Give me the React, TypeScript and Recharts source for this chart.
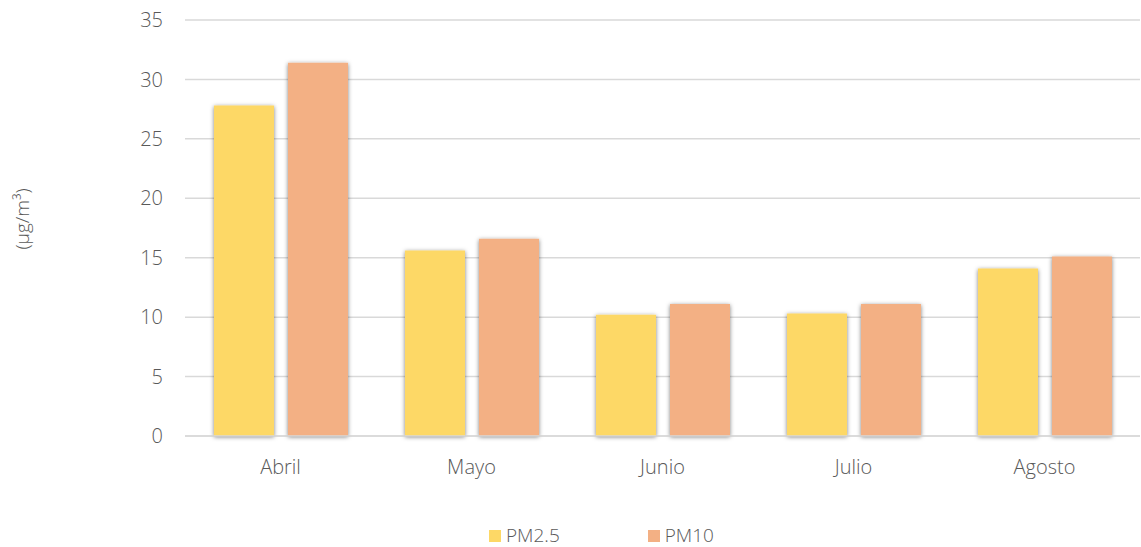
import { BarChart, Bar, XAxis, YAxis, CartesianGrid } from 'recharts';

const months = ['Abril', 'Mayo', 'Junio', 'Julio', 'Agosto'];
const pm25 = [27.8, 15.6, 10.2, 10.3, 14.1];
const pm10 = [31.4, 16.6, 11.1, 11.1, 15.1];
const yTicks = [0, 5, 10, 15, 20, 25, 30, 35];

const series = [
  { key: 'pm25', name: 'PM2.5', color: '#FDD866' },
  { key: 'pm10', name: 'PM10', color: '#F3B084' },
];

const data = months.map((month, i) => ({ month, pm25: pm25[i], pm10: pm10[i] }));

const FONT = '"Open Sans", "Noto Sans", sans-serif';
const TEXT = '#595959';

export default function App() {
  return (
    <div style={{ position: 'absolute', left: 0, top: 0, width: 1141, height: 547, background: '#fff', fontFamily: FONT }}>
      <BarChart
        width={1141}
        height={547}
        data={data}
        margin={{ top: 20, right: 1, left: 0, bottom: 0 }}
        barCategoryGap="15%"
        barGap={14}
      >
        <defs>
          <filter id="barShadow" x="-20%" y="-5%" width="140%" height="110%">
            <feDropShadow dx="0" dy="1" stdDeviation="2" floodColor="#000" floodOpacity="0.5" />
          </filter>
        </defs>
        <CartesianGrid vertical={false} stroke="#d9d9d9" strokeWidth={1.5} />
        <XAxis
          dataKey="month"
          height={111}
          axisLine={{ stroke: '#d9d9d9', strokeWidth: 1.5 }}
          tickLine={false}
          tickSize={0}
          tickMargin={24}
          tick={{ fill: TEXT, fontSize: 20, fontFamily: FONT, fontWeight: 300 }}
        />
        <YAxis
          width={185}
          domain={[0, 35]}
          ticks={yTicks}
          interval={0}
          axisLine={false}
          tickLine={false}
          tickSize={0}
          tickMargin={22}
          tick={{ fill: TEXT, fontSize: 20, fontFamily: FONT, fontWeight: 300 }}
        />
        {series.map((s) => (
          <Bar
            key={s.key}
            dataKey={s.key}
            name={s.name}
            fill={s.color}
            barSize={60}
            filter="url(#barShadow)"
            isAnimationActive={false}
          />
        ))}
        <text
          x={22}
          y={219}
          transform="rotate(-90 22 219)"
          textAnchor="middle"
          dominantBaseline="central"
          fill={TEXT}
          fontSize={19}
          fontWeight={300}
          fontFamily={FONT}
        >
          (µg/m³)
        </text>
      </BarChart>
      <div style={{ position: 'absolute', top: 526, left: 489, display: 'flex', gap: 88 }}>
        {series.map((s) => (
          <div
            key={s.key}
            style={{ display: 'flex', alignItems: 'center', color: TEXT, fontSize: 19, fontWeight: 300, lineHeight: '19px' }}
          >
            <span style={{ width: 12, height: 12, background: s.color, marginRight: 5, display: 'inline-block' }} />
            {s.name}
          </div>
        ))}
      </div>
    </div>
  );
}
